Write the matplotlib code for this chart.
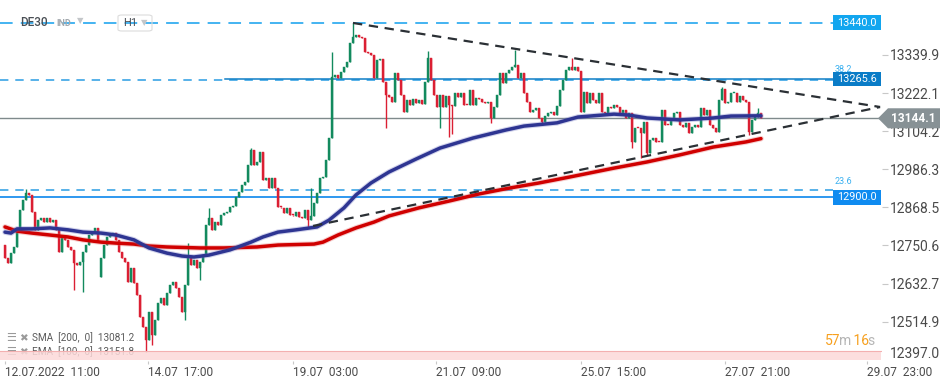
"""DE30 H1 candlestick chart with SMA/EMA, fib levels and triangle trendlines."""
import matplotlib
matplotlib.use("Agg")
import matplotlib.pyplot as plt
import matplotlib.transforms as mtransforms
from matplotlib.patches import Polygon, Rectangle, FancyBboxPatch
import numpy as np

W, H = 949, 385

# ---- data ---------------------------------------------------------------
first_open = 12752
closes = [
    12712, 12696, 12727, 12746, 12799, 12860, 12891, 12913, 12907, 12854,
    12799, 12830, 12836, 12823, 12836, 12823, 12830, 12799, 12730, 12777,
    12768, 12746, 12737, 12696, 12690, 12700, 12730, 12752, 12783, 12792,
    12805, 12768, 12712, 12752, 12777, 12783, 12789, 12768, 12730, 12712,
    12700, 12638, 12681, 12635, 12598, 12529, 12498, 12458, 12545, 12474,
    12520, 12573, 12588, 12566, 12604, 12628, 12638, 12619, 12591, 12545,
    12628, 12715, 12690, 12706, 12681, 12700, 12721, 12814, 12836, 12799,
    12823, 12814, 12845, 12851, 12854, 12870, 12872, 12901, 12916, 12938,
    12947, 13000, 13046, 13000, 13009, 13040, 12953, 12959, 12928, 12959,
    12928, 12870, 12868, 12851, 12867, 12845, 12843, 12854, 12839, 12836,
    12860, 12830, 12842, 12882, 12913, 12959, 12963, 13015, 13083, 13272,
    13278, 13269, 13287, 13303, 13318, 13377, 13396, 13402, 13396, 13392,
    13349, 13346, 13340, 13269, 13324, 13326, 13256, 13216, 13210, 13195,
    13284, 13263, 13216, 13164, 13201, 13185, 13204, 13191, 13201, 13188,
    13256, 13331, 13263, 13216, 13179, 13216, 13179, 13213, 13185, 13182,
    13222, 13210, 13222, 13185, 13184, 13232, 13185, 13207, 13204, 13195,
    13191, 13195, 13145, 13179, 13216, 13284, 13253, 13284, 13293, 13303,
    13309, 13269, 13284, 13222, 13195, 13164, 13170, 13176, 13145, 13133,
    13151, 13160, 13164, 13154, 13182, 13232, 13263, 13293, 13303, 13294,
    13303, 13290, 13164, 13225, 13191, 13222, 13201, 13191, 13222, 13164,
    13160, 13179, 13176, 13185, 13179, 13160, 13170, 13145, 13160, 13071,
    13114, 13113, 13099, 13133, 13037, 13077, 13083, 13071, 13070, 13170,
    13123, 13122, 13139, 13160, 13164, 13123, 13117, 13130, 13099, 13117,
    13123, 13117, 13176, 13154, 13170, 13123, 13114, 13102, 13201, 13235,
    13191, 13195, 13222, 13223, 13195, 13213, 13201, 13195, 13102, 13139,
    13148, 13160, 13144.1,
]
open_gaps = {32: 12653}  # session open gap
wick_highs = {7: 12925, 61: 12758, 68: 12867, 82: 13052, 102: 12928, 109: 13349,
              116: 13439, 141: 13352, 170: 13355, 189: 13331, 239: 13241, 251: 13176}
wick_lows = {23: 12613, 26: 12607, 47: 12421, 49: 12443, 60: 12520, 65: 12644,
             101: 12808, 127: 13114, 145: 13114, 148: 13086, 149: 13095, 162: 13130,
             179: 13123, 209: 13052, 212: 13021, 214: 13031, 248: 13092}

# moving averages (candle index, value)
ema_idx = [0, 2, 4, 9, 15, 21, 26, 32, 37, 43, 48, 54, 59, 63, 68, 75, 82, 86, 91,
           97, 104, 108, 113, 117, 122, 128, 137, 145, 156, 167, 173, 184, 191, 203,
           208, 214, 225, 236, 242, 252]
ema_val = [12792, 12789, 12802, 12802, 12805, 12799, 12792, 12789, 12783, 12768,
           12743, 12727, 12718, 12715, 12721, 12737, 12761, 12777, 12792, 12799,
           12808, 12829, 12867, 12907, 12944, 12978, 13018, 13052, 13083, 13108,
           13120, 13130, 13148, 13157, 13154, 13145, 13139, 13145, 13151, 13151.8]
sma_idx = [0, 4, 9, 15, 21, 26, 32, 37, 43, 48, 54, 65, 73, 84, 91, 103, 106, 111,
           117, 123, 128, 138, 148, 158, 168, 178, 188, 203, 214, 225, 236, 247, 252]
sma_val = [12808, 12795, 12789, 12783, 12777, 12768, 12761, 12758, 12755, 12749,
           12746, 12743, 12743, 12746, 12752, 12755, 12761, 12783, 12805, 12823,
           12842, 12867, 12888, 12910, 12928, 12944, 12962, 12990, 13009, 13031,
           13055, 13071, 13081.2]

# triangle trendlines (start index, start price, end index, end price)
upper_trend = (116, 13439, 291.7, 13179)
lower_trend = (102.7, 12811, 291.7, 13179)

level_top = 13440.0
level_mid = 13265.6
level_low = 12900.0
fib_levels = {"38.2": 13262, "23.6": 12922}
last_price = 13144.1
sma_last, ema_last = 13081.2, 13151.8
countdown = [("57", "num"), ("m", "unit"), (" 16", "num"), ("s", "unit")]

yticks = [13339.9, 13222.1, 13104.2, 12986.3, 12868.5, 12750.6, 12632.7, 12514.9]
xtick_idx = [0, 47.7, 96, 143.7, 192, 240, 287.3]
xtick_labels = ["12.07.2022  11:00", "14.07  17:00", "19.07  03:00", "21.07  09:00",
                "25.07  15:00", "27.07  21:00", "29.07  23:00"]

GREEN = "#138a5e"
RED = "#db1f33"
NARROW = ["Liberation Sans Narrow", "Roboto", "DejaVu Sans"]
plt.rcParams["font.family"] = ["Roboto", "DejaVu Sans"]


def fx(px):
    return px / W


def fy(py):
    return 1 - py / H


fig = plt.figure(figsize=(W / 100, H / 100), dpi=100)
fig.patch.set_facecolor("white")
ax = fig.add_axes([0, fy(361), fx(882), 361 / H])
ax.set_xlim(-5 / 3, 877 / 3)
ax.set_ylim(12393.3, 13510.0)
for s in ax.spines.values():
    s.set_visible(False)

# ---- candles -------------------------------------------------------------
closes = np.array(closes, dtype=float)
opens = np.r_[first_open, closes[:-1]]
for i, v in open_gaps.items():
    opens[i] = v
idx = np.arange(len(closes))
highs = np.maximum(opens, closes)
lows = np.minimum(opens, closes)
for i, v in wick_highs.items():
    highs[i] = max(highs[i], v)
for i, v in wick_lows.items():
    lows[i] = min(lows[i], v)
colors = np.where(closes >= opens, GREEN, RED)
ax.vlines(idx, lows, highs, colors=colors, lw=1.0, zorder=2)
body = np.where(np.abs(closes - opens) < 3, 3, closes - opens)
ax.bar(idx, body, bottom=opens, width=0.72, color=colors, edgecolor=colors,
       linewidth=0.3, zorder=3)

# ---- moving averages -----------------------------------------------------
ax.plot(sma_idx, sma_val, color="#e06060", lw=4.0, alpha=0.3, zorder=4,
        solid_capstyle="round")
ax.plot(sma_idx, sma_val, color="#d00000", lw=2.5, zorder=4, solid_capstyle="round")
ax.plot(ema_idx, ema_val, color="#6a70c0", lw=4.0, alpha=0.3, zorder=4,
        solid_capstyle="round")
ax.plot(ema_idx, ema_val, color="#2e3592", lw=2.5, zorder=4, solid_capstyle="round")

# ---- trendlines ----------------------------------------------------------
for x0, y0, x1, y1 in (upper_trend, lower_trend):
    ax.plot([x0, x1], [y0, y1], color="#2b3035", lw=1.6, ls=(0, (4.2, 3.0)),
            zorder=5)

# ---- horizontal levels ---------------------------------------------------
box_x0 = fx(833) / fx(882)
ytr = ax.get_yaxis_transform()
ax.axhline(level_top, xmax=box_x0, color="#35aef0", lw=1.3, ls=(0, (7, 4.5)),
           zorder=1)
for (name, val), dy in zip(fib_levels.items(), (20, 12)):
    ax.axhline(val, xmax=box_x0, color="#2a9de3", lw=1.1, ls=(0, (5.5, 4.5)),
               zorder=1)
    ax.text(box_x0 + 0.002, val + dy, name, color="#3ab0f0", fontsize=6.5,
            transform=ytr, va="bottom", ha="left", zorder=5)
ax.axhline(level_mid, xmin=225 / 882, xmax=box_x0, color="#0f7fc6", lw=1.1,
           zorder=1)
ax.axhline(level_low, xmax=box_x0, color="#1e90ee", lw=1.3, zorder=1)
ax.axhline(last_price, color="#7f8a8c", lw=1.0, zorder=1)

for val, fc in ((level_top, "#12a6ef"), (level_mid, "#0a7cc7"), (level_low, "#0f8bf0")):
    ax.add_patch(Rectangle((box_x0, val - 23), 0.9989 - box_x0, 46, transform=ytr,
                           facecolor=fc, edgecolor="none", zorder=6))
    ax.text((box_x0 + 0.9989) / 2, val, f"{val:.1f}", transform=ytr, ha="center",
            va="center", color="white", fontsize=7.8, family=NARROW, zorder=7)

# bottom pink band
ax.add_patch(Rectangle((0, 0.003), 0.9989, 0.0245, transform=ax.transAxes,
                       facecolor="#fcd9d9", edgecolor="none", alpha=0.85, zorder=8))
ax.plot([0, 0.9989], [0.0275, 0.0275], transform=ax.transAxes, color="#f3b0b0",
        lw=0.8, zorder=8)

# ---- axes ticks ----------------------------------------------------------
ax.yaxis.tick_right()
ax.set_yticks(yticks)
ax.set_yticklabels([f"{v:.1f}" for v in yticks])
ax.tick_params(axis="y", length=4, width=0.8, color="#c8c8c8", pad=2,
               labelsize=10, labelcolor="#4a4a4a", labelfontfamily=NARROW)
fig.text(fx(890), fy(354), "12397.0", fontsize=10, color="#4a4a4a", family=NARROW,
         va="center", ha="left")

ax.set_xticks(xtick_idx)
ax.set_xticklabels(xtick_labels)
ax.tick_params(axis="x", length=2, width=0.8, color="#c8c8c8", pad=1.5,
               labelsize=8.6, labelcolor="#4a4a4a")
for lbl in ax.get_xticklabels():
    lbl.set_horizontalalignment("left")

# ---- last price tag ------------------------------------------------------
btr = mtransforms.blended_transform_factory(fig.transFigure, ax.transData)
tag = Polygon([(fx(878), last_price), (fx(888), last_price + 31),
               (fx(940), last_price + 31), (fx(940), last_price - 31),
               (fx(888), last_price - 31)], closed=True, transform=btr,
              facecolor="#879195", edgecolor="none", zorder=10)
fig.add_artist(tag)
fig.text(fx(913), last_price, f"{last_price:.1f}", transform=btr, fontsize=8.6,
         color="white", weight="bold", ha="center", va="center", zorder=11)

# ---- header --------------------------------------------------------------
fig.text(fx(20), fy(22), "DE30", fontsize=8.5, color="#4a4f55", weight="medium",
         va="center")
fig.text(fx(56), fy(23), "IND", fontsize=6.5, color="#a3a9ae", weight="bold",
         va="center")
fig.text(fx(77), fy(21), "▼", fontsize=6, color="#c3c6c9", va="center",
         family=["DejaVu Sans"])
fig.add_artist(FancyBboxPatch((fx(118), fy(31)), fx(34), 16 / H,
                              boxstyle="round,pad=0,rounding_size=0.004",
                              transform=fig.transFigure, facecolor="none",
                              edgecolor="#dcdcdc", lw=0.8))
fig.text(fx(123), fy(23), "H1", fontsize=8, color="#4a4f55", va="center")
fig.text(fx(141), fy(23), "▼", fontsize=6, color="#c3c6c9", va="center",
         family=["DejaVu Sans"])

# ---- indicator legend ----------------------------------------------------
ltr = mtransforms.blended_transform_factory(ax.transAxes, fig.transFigure)
for py, name, params, val in ((338, "SMA", "[200,  0]", sma_last),
                              (352, "EMA", "[100,  0]", ema_last)):
    ax.text(fx(6) / fx(882), fy(py), "☰", transform=ltr, fontsize=8,
            color="#9a9a9a", family=["DejaVu Sans"], va="center", zorder=7)
    ax.text(fx(19) / fx(882), fy(py), "✖", transform=ltr, fontsize=7.5,
            color="#9a9a9a", family=["DejaVu Sans"], va="center", zorder=7)
    ax.text(fx(32) / fx(882), fy(py), f"{name}  {params}  {val:.1f}",
            transform=ltr, fontsize=7.2, color="#5a5a5a", va="center", zorder=7)

# ---- countdown (pieces laid out one after another) ------------------------
renderer = fig.canvas.get_renderer()
cx = 825
for txt, kind in countdown:
    t = fig.text(fx(cx), fy(341), txt, fontsize=10, va="center", ha="left",
                 color="#f7a01e" if kind == "num" else "#b5b5b5")
    cx = t.get_window_extent(renderer).x1 - 1.5

fig.savefig("out.png", dpi=100, facecolor="white")
